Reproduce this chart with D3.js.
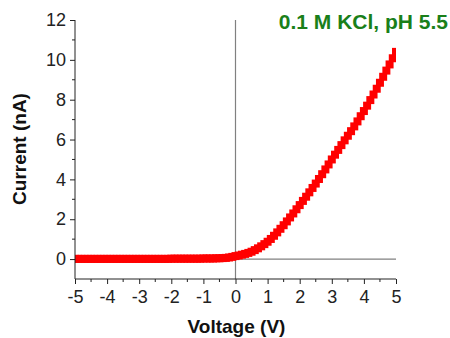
<!DOCTYPE html>
<html><head><meta charset="utf-8">
<script src="https://cdn.jsdelivr.net/npm/d3@7"></script>
<style>body{margin:0;background:#fff;}svg{display:block;font-family:"Liberation Sans",Arial,sans-serif;}</style>
</head><body><svg id="c" width="450" height="338"></svg>
<script>
const voltage = [-5.0,-4.9,-4.8,-4.7,-4.6,-4.5,-4.4,-4.3,-4.2,-4.1,-4.0,-3.9,-3.8,-3.7,-3.6,-3.5,-3.4,-3.3,-3.2,-3.1,-3.0,-2.9,-2.8,-2.7,-2.6,-2.5,-2.4,-2.3,-2.2,-2.1,-2.0,-1.9,-1.8,-1.7,-1.6,-1.5,-1.4,-1.3,-1.2,-1.1,-1.0,-0.9,-0.8,-0.7,-0.6,-0.5,-0.4,-0.3,-0.2,-0.1,0.0,0.1,0.2,0.3,0.4,0.5,0.6,0.7,0.8,0.9,1.0,1.1,1.2,1.3,1.4,1.5,1.6,1.7,1.8,1.9,2.0,2.1,2.2,2.3,2.4,2.5,2.6,2.7,2.8,2.9,3.0,3.1,3.2,3.3,3.4,3.5,3.6,3.7,3.8,3.9,4.0,4.1,4.2,4.3,4.4,4.5,4.6,4.7,4.8,4.9,5.0];
const current = [0.01,0.01,0.01,0.01,0.01,0.01,0.01,0.01,0.01,0.01,0.01,0.01,0.01,0.01,0.01,0.01,0.01,0.01,0.01,0.01,0.01,0.01,0.01,0.01,0.01,0.01,0.01,0.01,0.01,0.01,0.02,0.02,0.02,0.02,0.02,0.02,0.02,0.02,0.02,0.02,0.03,0.03,0.03,0.03,0.04,0.04,0.05,0.06,0.08,0.11,0.15,0.18,0.22,0.26,0.31,0.37,0.45,0.54,0.64,0.75,0.87,1.01,1.17,1.34,1.52,1.70,1.89,2.09,2.29,2.50,2.71,2.92,3.13,3.35,3.57,3.79,4.02,4.26,4.50,4.75,5.00,5.24,5.48,5.72,5.96,6.19,6.42,6.66,6.91,7.17,7.43,7.70,7.98,8.26,8.55,8.85,9.15,9.46,9.77,10.08,10.40];
const xTicks = [-5,-4,-3,-2,-1,0,1,2,3,4,5];
const yTicks = [0,2,4,6,8,10,12];
const xLabel = "Voltage (V)";
const yLabel = "Current (nA)";
const title = "0.1 M KCl, pH 5.5";

const svg = d3.select("#c");
const L = 75, R = 396, T = 20, B = 279;
const x = d3.scaleLinear().domain([-5,5]).range([L,R]);
const y = d3.scaleLinear().domain([-1,12]).range([B,T]);

svg.append("defs").append("clipPath").attr("id","clip")
  .append("rect").attr("x",L).attr("y",T).attr("width",R-L).attr("height",B-T);

// zero lines
svg.append("line").attr("x1",x(0)).attr("x2",x(0)).attr("y1",T).attr("y2",B)
  .attr("stroke","#808080").attr("stroke-width",1.2);
svg.append("line").attr("x1",L).attr("x2",R).attr("y1",y(0)).attr("y2",y(0))
  .attr("stroke","#808080").attr("stroke-width",1.2);

// data
svg.append("g").attr("clip-path","url(#clip)").selectAll("rect").data(voltage).join("rect")
  .attr("x",(d)=>x(d)-4).attr("y",(d,i)=>y(current[i])-4)
  .attr("width",8).attr("height",8).attr("fill","#ff0000");

// axes
const fmt = d => String(d);
const xMinor = d3.range(-4.5,5,1);
const gx = svg.append("g").attr("transform",`translate(0,${B})`)
  .call(d3.axisBottom(x).tickValues(xTicks).tickSize(5).tickSizeOuter(0).tickFormat(fmt));
gx.selectAll(".tick text").attr("font-size",18).attr("fill","#222").attr("dy","0.9em");
gx.select(".domain").attr("stroke","#222");
gx.selectAll(".tick line").attr("stroke","#222");
svg.append("g").selectAll("line").data(xMinor).join("line")
  .attr("x1",d=>x(d)).attr("x2",d=>x(d)).attr("y1",B).attr("y2",B+3).attr("stroke","#222");

const gy = svg.append("g").attr("transform",`translate(${L},0)`)
  .call(d3.axisLeft(y).tickValues(yTicks).tickSize(5).tickSizeOuter(0).tickFormat(fmt));
gy.selectAll(".tick text").attr("font-size",18).attr("fill","#222").attr("dx","-0.05em");
gy.select(".domain").attr("stroke","#222");
gy.selectAll(".tick line").attr("stroke","#222");
svg.append("g").selectAll("line").data([1,3,5,7,9,11]).join("line")
  .attr("x1",L-3).attr("x2",L).attr("y1",d=>y(d)).attr("y2",d=>y(d)).attr("stroke","#222");
gy.select(".domain").attr("d",`M0,${B}V${T}`);
gx.select(".domain").attr("d",`M${L},0H${R}`);

// labels
svg.append("text").attr("x",x(0)+1).attr("y",333).attr("text-anchor","middle")
  .attr("font-size",19).attr("font-weight","bold").attr("fill","#111").text(xLabel);
svg.append("text").attr("transform",`translate(26,149) rotate(-90)`).attr("text-anchor","middle")
  .attr("font-size",19).attr("font-weight","bold").attr("fill","#111").text(yLabel);
svg.append("text").attr("x",448).attr("y",29).attr("text-anchor","end")
  .attr("font-size",21).attr("font-weight","bold").attr("fill","#1a7f1a").text(title);
</script></body></html>
